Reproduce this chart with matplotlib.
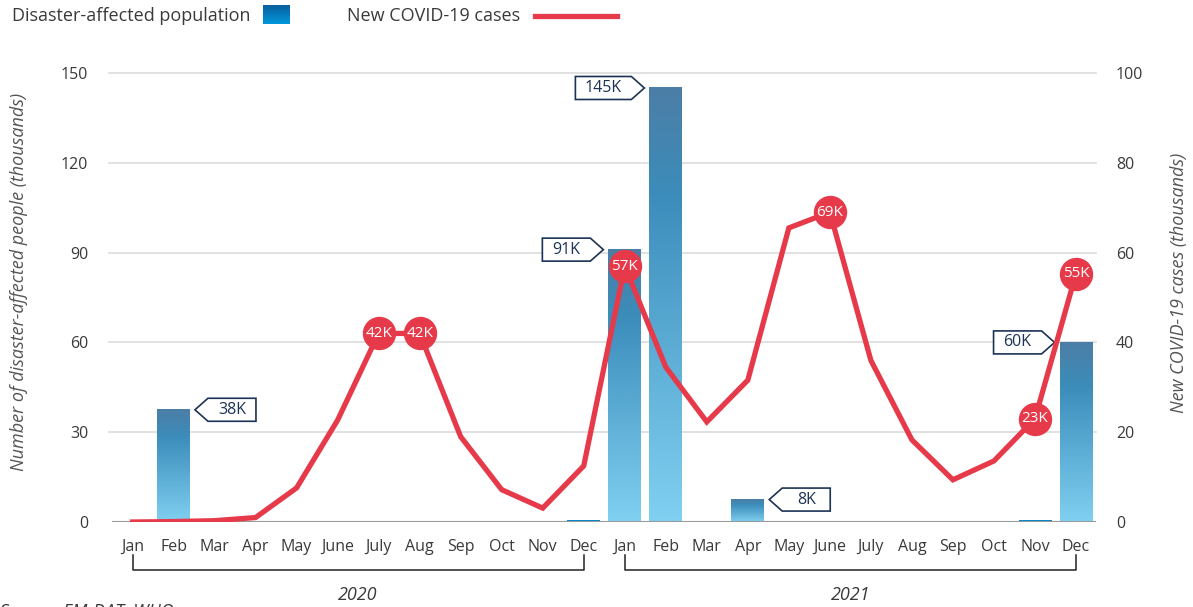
import numpy as np
import matplotlib
matplotlib.use("Agg")
import matplotlib.pyplot as plt
import matplotlib.transforms as mtransforms
from matplotlib.colors import LinearSegmentedColormap
from matplotlib.patches import Polygon

plt.rcParams["font.family"] = ["Open Sans", "DejaVu Sans"]

# ── Data ──────────────────────────────────────────────
months = ["Jan", "Feb", "Mar", "Apr", "May", "June", "July", "Aug", "Sep", "Oct", "Nov", "Dec"] * 2
years = ["2020", "2021"]

# disaster-affected population (thousands)
affected = [0, 37.5, 0, 0, 0, 0, 0, 0, 0, 0, 0, 0.4,
            91, 145, 0, 7.5, 0, 0, 0, 0, 0, 0, 0.4, 60]
affected_labels = {1: "38K", 12: "91K", 13: "145K", 15: "8K", 23: "60K"}
label_side = {1: "right", 12: "left", 13: "left", 15: "right", 23: "left"}

# new COVID-19 cases (thousands)
covid = [0, 0.1, 0.3, 1.0, 7.6, 22.7, 42, 42, 19, 7.2, 3.1, 12.5,
         57, 34.5, 22.3, 31.6, 65.5, 69, 36, 18.3, 9.4, 13.6, 23, 55.3]
covid_labels = {6: "42K", 7: "42K", 12: "57K", 17: "69K", 22: "23K", 23: "55K"}

RED = "#e63a4a"
NAVY = "#1c3355"
GRID = "#dcdcdc"
TXT = "#3a3a3a"

bar_cmap = LinearSegmentedColormap.from_list(
    "bars", [(0, "#80d0f2"), (0.75, "#3c8dbb"), (1, "#4b7ea6")])
leg_cmap = LinearSegmentedColormap.from_list("leg", ["#0098da", "#0a5e9e"])

fig = plt.figure(figsize=(11.93, 6.07), dpi=100)
ax = fig.add_axes([0.0939, 0.140, 0.8252, 0.7397])
ax2 = ax.twinx()

x = np.arange(len(months))
ax.set_xlim(-0.5, len(months) - 0.5)
ax.set_ylim(0, 150)
ax2.set_ylim(0, 100)

# ── Grid ─────────────────────────────────────────────
for v in [30, 60, 90, 120, 150]:
    ax.axhline(v, color=GRID, lw=1.2, zorder=0, xmin=-0.003, xmax=1.0, clip_on=False)
ax.axhline(0, color="#999999", lw=1.5, zorder=3)

# ── Gradient bars ────────────────────────────────────
bw = 0.8
grad = np.linspace(0, 1, 256).reshape(-1, 1)
for i, v in enumerate(affected):
    if v <= 0:
        continue
    ax.imshow(grad, extent=[i - bw / 2, i + bw / 2, 0, v], origin="lower",
              aspect="auto", cmap=bar_cmap if v > 2 else leg_cmap.reversed(),
              zorder=2, interpolation="bicubic")
ax.set_xlim(-0.5, len(months) - 0.5)
ax.set_ylim(0, 150)


# ── Tag labels for bars ──────────────────────────────
def tag(i, v, text, side):
    w = 48 if len(text) < 4 else 56
    h, tw, gap = 23, 13, 5
    if side == "right":
        x0 = i + bw / 2
        pts = [(gap, 0), (gap + tw, h / 2), (gap + tw + w, h / 2),
               (gap + tw + w, -h / 2), (gap + tw, -h / 2)]
        cx = gap + tw + w / 2
    else:
        x0 = i - bw / 2
        pts = [(-gap, 0), (-gap - tw, h / 2), (-gap - tw - w, h / 2),
               (-gap - tw - w, -h / 2), (-gap - tw, -h / 2)]
        cx = -gap - tw - w / 2
    trans = fig.dpi_scale_trans + mtransforms.ScaledTranslation(x0, v, ax.transData)
    pts = [(px / 100, py / 100) for px, py in pts]
    ax.add_patch(Polygon(pts, closed=True, facecolor="white", edgecolor=NAVY,
                         lw=1.2, transform=trans, zorder=6, clip_on=False))
    ax.annotate(text, xy=(x0, v), xytext=(cx * 0.72, 0), textcoords="offset points",
                ha="center", va="center", fontsize=11.5, color=NAVY, zorder=7)


for i, t in affected_labels.items():
    tag(i, affected[i], t, label_side[i])

# ── COVID line ───────────────────────────────────────
ax2.plot(x, covid, color=RED, lw=3.8, zorder=4, solid_joinstyle="miter")
for i, t in covid_labels.items():
    ax2.plot(i, covid[i], "o", ms=23, color=RED, zorder=5)
    ax2.text(i, covid[i], t, ha="center", va="center", color="white",
             fontsize=11, zorder=6)

# ── Axes styling ─────────────────────────────────────
for a in (ax, ax2):
    for s in a.spines.values():
        s.set_visible(False)
ax.set_xticks(x)
ax.set_xticklabels(months, fontsize=11.5, color=TXT)
ax.tick_params(axis="x", length=0, pad=12)
ax.set_yticks([0, 30, 60, 90, 120, 150])
ax.tick_params(axis="y", length=0, pad=17, labelsize=11.5, labelcolor=TXT)
ax2.set_yticks([0, 20, 40, 60, 80, 100])
ax2.tick_params(axis="y", length=0, pad=14, labelsize=11.5, labelcolor=TXT)

# axis titles
fig.text(19 / 1193, 1 - 282 / 607, "Number of disaster-affected people (thousands)",
         fontsize=13, style="italic", color="#555555", rotation=90,
         ha="center", va="center")
fig.text(1179 / 1193, 1 - 283 / 607, "New COVID-19 cases (thousands)",
         fontsize=13, style="italic", color="#555555", rotation=90,
         ha="center", va="center")

# ── Year brackets ────────────────────────────────────
bt = ax.get_xaxis_transform()
for k, yr in enumerate(years):
    a0, a1 = k * 12, k * 12 + 11
    ax.plot([a0, a0, a1, a1], [-0.073, -0.107, -0.107, -0.073], color="#222222",
            lw=1.1, transform=bt, clip_on=False)
    ax.text((a0 + a1) / 2, -0.162, yr, transform=bt, ha="center", va="center",
            fontsize=13, style="italic", color=TXT)

# ── Legend ───────────────────────────────────────────
fig.text(12 / 1193, 1 - 16 / 607, "Disaster-affected population", fontsize=13,
         color=TXT, va="center", ha="left")
sw = fig.add_axes([263 / 1193, 1 - 24 / 607, 27 / 1193, 19 / 607])
sw.imshow(grad, origin="lower", aspect="auto", cmap=leg_cmap)
sw.axis("off")
fig.text(347 / 1193, 1 - 16 / 607, "New COVID-19 cases", fontsize=13,
         color=TXT, va="center", ha="left")
fig.add_artist(plt.Line2D([535 / 1193, 617 / 1193], [1 - 16 / 607, 1 - 16 / 607],
                          color=RED, lw=3.8, transform=fig.transFigure))

# source line, cut off at the bottom edge
fig.text(0.0, -0.008, "Source: EM-DAT, WHO", fontsize=13, style="italic",
         color=TXT, va="center", ha="left")

fig.savefig("out.png", dpi=100)
